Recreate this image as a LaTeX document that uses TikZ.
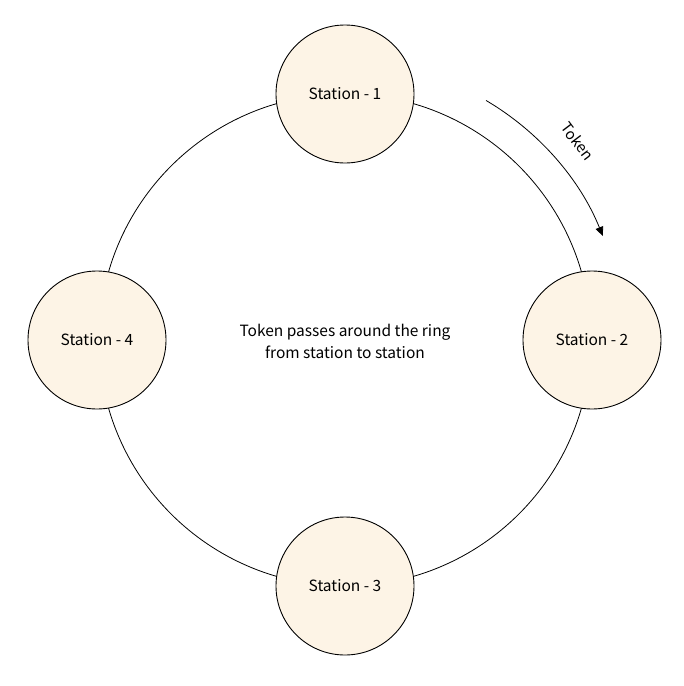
\documentclass[tikz,border=0pt]{standalone}
\usepackage{fontspec}
\setmainfont{Noto Sans CJK SC}
\usetikzlibrary{arrows.meta}
\definecolor{stationfill}{RGB}{253,244,230}
\begin{document}
\begin{tikzpicture}[x=1pt,y=-1pt,
  station/.style={circle,draw=black,line width=0.9pt,fill=stationfill,minimum size=138pt,inner sep=0pt,font=\fontsize{15.5}{18}\selectfont},
  ring/.style={draw=black,line width=0.8pt},
  lbl/.style={font=\fontsize{15.5}{22}\selectfont,align=center}]
\useasboundingbox (0,0) rectangle (684,686);
\coordinate (c) at (345,340);
\draw[ring] (c) circle[radius=246pt];
\node[station] (s1) at (345,94) {Station - 1};
\node[station] (s2) at (592,340) {Station - 2};
\node[station] (s3) at (345,586) {Station - 3};
\node[station] (s4) at (97,340) {Station - 4};
\node[lbl] (center) at (345,341) {Token passes around the ring\\from station to station};
\draw[ring,-{Triangle[length=9pt,width=8pt]}] ([shift={(59.5:278pt)}]c) arc[start angle=59.5,end angle=22,radius=278pt] coordinate (tokenend);
\node[font=\fontsize{15}{17}\selectfont,rotate=-53] (tok) at ([shift={(40.5:306pt)}]c) {Token};
\end{tikzpicture}
\end{document}
